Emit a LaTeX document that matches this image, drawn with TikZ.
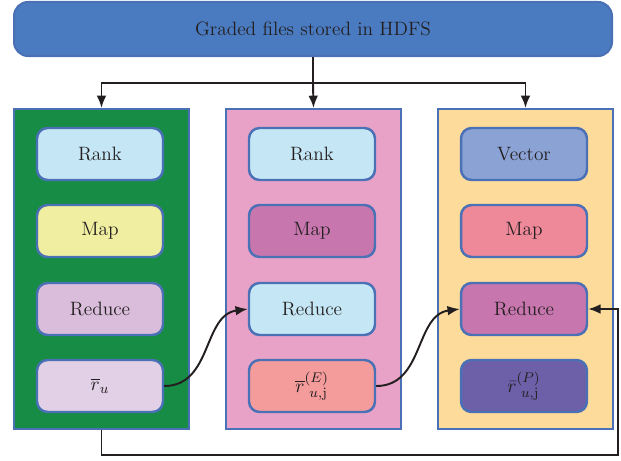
\documentclass[tikz,border=0pt]{standalone}
\usetikzlibrary{arrows.meta,positioning}

\definecolor{edgeblue}{HTML}{4A70B5}
\definecolor{topblue}{HTML}{4A7BC0}
\definecolor{inkgray}{HTML}{231F20}
\definecolor{colgreen}{HTML}{168C44}
\definecolor{colpink}{HTML}{E8A2C8}
\definecolor{colyellow}{HTML}{FDDB9B}
\definecolor{lightblue}{HTML}{C5E7F5}
\definecolor{mapyellow}{HTML}{F0EEA0}
\definecolor{lilac}{HTML}{D9BDDB}
\definecolor{palelilac}{HTML}{E2D0E6}
\definecolor{mauve}{HTML}{C776AE}
\definecolor{salmon}{HTML}{F49B9C}
\definecolor{vecblue}{HTML}{8AA2D4}
\definecolor{rosered}{HTML}{EE8999}
\definecolor{deeppurple}{HTML}{6E60A8}

\tikzset{
  column/.style={draw=edgeblue, line width=1.2pt, minimum width=3.5cm, minimum height=6.4cm},
  task/.style={draw=edgeblue, line width=1.4pt, rounded corners=6pt, minimum width=2.52cm,
    minimum height=1.04cm, text=inkgray, font=\fontsize{11}{13}\selectfont},
  link/.style={inkgray, line width=1.1pt},
}

\begin{document}
\begin{tikzpicture}[x=0.02cm,y=-0.02cm]
  \useasboundingbox (0,0) rectangle (621,460);

  \node[draw=edgeblue, fill=topblue, line width=1.2pt, rounded corners=8pt, minimum width=11.96cm,
    minimum height=1.08cm, text=inkgray, font=\fontsize{11}{13}\selectfont] (hdfs) at (313,29)
    {Graded files stored in HDFS};

  \node[column, fill=colgreen] (colA) at (101.5,269) {};
  \node[column, fill=colpink] (colB) at (313.5,269) {};
  \node[column, fill=colyellow] (colC) at (525.5,269) {};

  \node[task, fill=lightblue] (rankA) at (100,154) {Rank};
  \node[task, fill=mapyellow] (mapA) at (100,231) {Map};
  \node[task, fill=lilac] (redA) at (100,309) {Reduce};
  \node[task, fill=palelilac] (avgA) at (100,386) {$\overline{r}_u$};

  \node[task, fill=lightblue] (rankB) at (312,154) {Rank};
  \node[task, fill=mauve] (mapB) at (312,231) {Map};
  \node[task, fill=lightblue] (redB) at (312,309) {Reduce};
  \node[task, fill=salmon] (avgB) at (312,386) {$\overline{r}^{(E)}_{\,\,u,\mathrm{j}}$};

  \node[task, fill=vecblue] (vecC) at (524,154) {Vector};
  \node[task, fill=rosered] (mapC) at (524,231) {Map};
  \node[task, fill=mauve] (redC) at (524,309) {Reduce};
  \node[task, fill=deeppurple] (avgC) at (524,386) {$\bar{r}^{(P)}_{\,\,u,\mathrm{j}}$};

  \coordinate (split) at (313,83);
  \draw[link] (hdfs.south) -- (split);
  \draw[link, -{Latex[length=7pt,width=5.5pt]}] (split) -| (colA.north);
  \draw[link, -{Latex[length=7pt,width=5.5pt]}] (split) -- (colB.north);
  \draw[link, -{Latex[length=7pt,width=5.5pt]}] (split) -| (colC.north);

  \draw[link, -{Latex[length=7pt,width=5.5pt]}] (avgA.east) .. controls +(48,0) and +(-45,6) .. (redB.west);
  \draw[link, -{Latex[length=7pt,width=5.5pt]}] (avgB.east) .. controls +(48,0) and +(-45,6) .. (redC.west);

  \coordinate (low) at (101.5,455);
  \coordinate (side) at (618,455);
  \draw[link, -{Latex[length=7pt,width=5.5pt]}] (colA.south) -- (low) -- (side) |- (redC.east);
\end{tikzpicture}
\end{document}
